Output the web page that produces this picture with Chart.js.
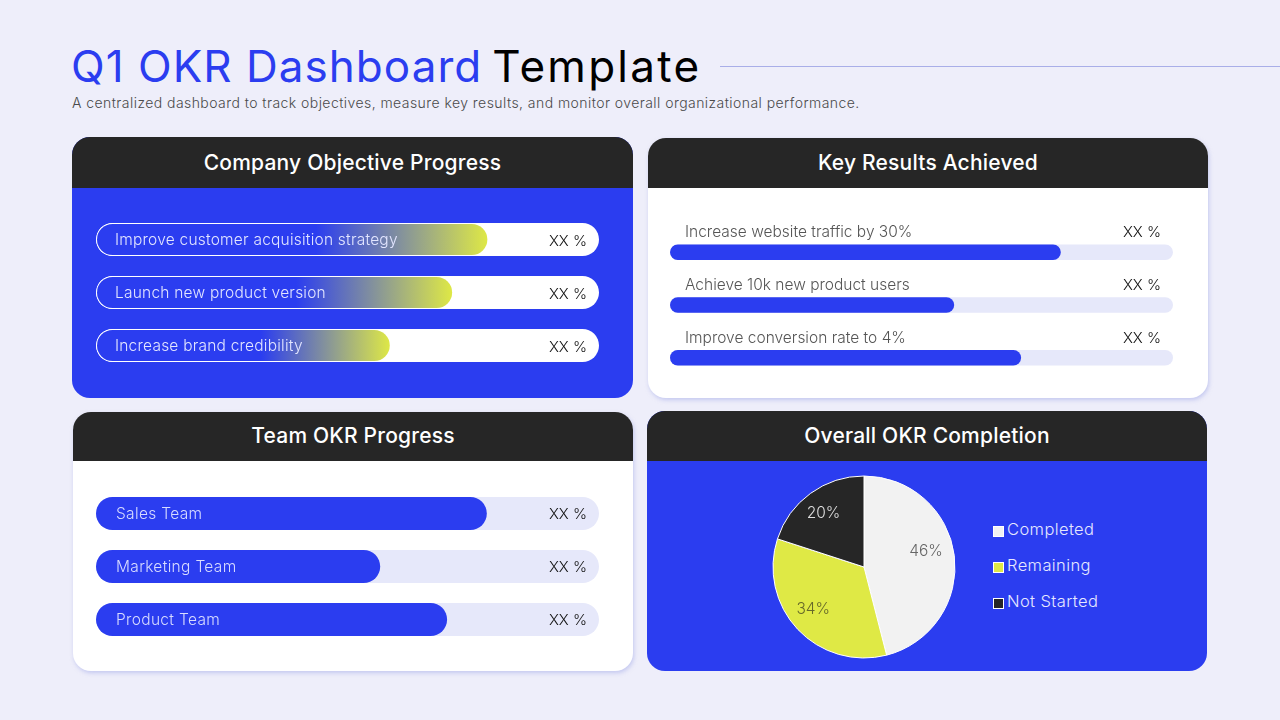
<!DOCTYPE html>
<html>
<head>
<meta charset="utf-8">
<title>Q1 OKR Dashboard Template</title>
<script src="https://cdn.jsdelivr.net/npm/chart.js@4"></script>
<style>
  html, body { margin: 0; padding: 0; }
  body { width: 1280px; height: 720px; overflow: hidden; position: relative; background: #eeeefa; font-family: Inter, "Noto Sans", sans-serif; }
  h1 { position: absolute; left: 71px; top: 38px; margin: 0; font-size: 44px; line-height: 56px; font-weight: 400; letter-spacing: 1.03px; color: #000; white-space: nowrap; }
  h1 .blue { color: #2b3df0; }
  h1 .last { letter-spacing: 2.28px; margin-left: -3.5px; }
  .rule { position: absolute; left: 720px; top: 66px; width: 560px; height: 1px; background: #a9aee8; }
  .sub { position: absolute; left: 72px; top: 94px; font-size: 14px; line-height: 18px; font-weight: 300; color: #4a4a4a; white-space: nowrap; letter-spacing: 0.44px; }
  .card { position: absolute; border-radius: 18px; overflow: hidden; }
  .card.blue { background: #2b3df0; }
  .card.white { background: #fff; box-shadow: 1px 2px 4px rgba(160, 168, 232, 0.55); }
  .head { background: #262626; color: #fff; text-align: center; font-size: 21px; font-weight: 450; letter-spacing: 0.2px; }
  .chart { position: absolute; }
  .legend { position: absolute; left: 993px; top: 511px; }
  .legend div { height: 36px; line-height: 36px; font-size: 16.5px; font-weight: 300; letter-spacing: 0.4px; color: #e6e8ff; white-space: nowrap; }
  .legend i { display: inline-block; width: 9px; height: 9px; border: 1px solid #fff; margin-right: 3px; vertical-align: -2px; }
</style>
</head>
<body>
<h1><span class="blue">Q1 OKR Dashboard</span> <span class="last">Template</span></h1>
<div class="rule"></div>
<div class="sub">A centralized dashboard to track objectives, measure key results, and monitor overall organizational performance.</div>

<div class="card blue" style="left:72px;top:137px;width:561px;height:261px"><div class="head" style="height:51px;line-height:51px">Company Objective Progress</div></div>
<div class="card white" style="left:648px;top:138px;width:560px;height:260px"><div class="head" style="height:50px;line-height:49px">Key Results Achieved</div></div>
<div class="card white" style="left:73px;top:412px;width:560px;height:259px"><div class="head" style="height:49px;line-height:47px">Team OKR Progress</div></div>
<div class="card blue" style="left:647px;top:411px;width:560px;height:260px"><div class="head" style="height:50px;line-height:49px">Overall OKR Completion</div></div>

<canvas class="chart" id="objectiveChart" width="503" height="159" style="left:96px;top:213px"></canvas>
<canvas class="chart" id="keyChart" width="503" height="168" style="left:670px;top:216px"></canvas>
<canvas class="chart" id="teamChart" width="503" height="159" style="left:96px;top:487px"></canvas>
<canvas class="chart" id="pieChart" width="200" height="200" style="left:764px;top:467px"></canvas>
<div class="legend" id="pieLegend"></div>

<script>
const objectiveLabels = ["Improve customer acquisition strategy", "Launch new product version", "Increase brand credibility"];
const objectiveValues = [78, 71, 58.6];
const keyLabels = ["Increase website traffic by 30%", "Achieve 10k new product users", "Improve conversion rate to 4%"];
const keyValues = [77.7, 56.5, 69.8];
const teamLabels = ["Sales Team", "Marketing Team", "Product Team"];
const teamValues = [77.7, 56.5, 69.8];
const valueTexts = ["XX %", "XX %", "XX %"];
const trackValues = [100, 100, 100];
const pieLabels = ["Completed", "Remaining", "Not Started"];
const pieValues = [46, 34, 20];

const BLUE = "#2b3df0";
const YELLOW = "#dfe945";
const DARK = "#262626";
const LIGHT = "#f2f2f2";
const TRACK = "#e6e8fa";
const LABEL_FONT = '300 15.5px Inter, "Noto Sans", sans-serif';
const VALUE_FONT = '300 15px Inter, "Noto Sans", sans-serif';

// text on the bars, placed from the chart's own scale
const barText = {
  id: "barText",
  afterDatasetsDraw(chart, args, opts) {
    const { ctx, chartArea } = chart;
    const y = chart.scales.y;
    ctx.save();
    ctx.textBaseline = "middle";
    chart.data.labels.forEach((label, i) => {
      const cy = y.getPixelForValue(i);
      ctx.font = LABEL_FONT;
      ctx.letterSpacing = opts.labelSpacing + "px";
      ctx.fillStyle = opts.labelColor;
      ctx.textAlign = "left";
      ctx.fillText(label, chartArea.left + opts.labelX, cy + opts.labelDy);
      ctx.font = VALUE_FONT;
      ctx.letterSpacing = "0px";
      ctx.fillStyle = "#111";
      ctx.textAlign = "right";
      ctx.fillText(valueTexts[i], chartArea.right - 12, cy + opts.valueDy);
    });
    ctx.restore();
  }
};

function barChart(id, labels, values, thickness, fill, trackColor, border, padTop, text) {
  return new Chart(document.getElementById(id), {
    type: "bar",
    data: {
      labels: labels,
      datasets: [
        { data: values, backgroundColor: fill, borderColor: border, borderWidth: border ? 1 : 0, order: 1 },
        { data: trackValues, backgroundColor: trackColor, borderWidth: 0, order: 2 }
      ]
    },
    options: {
      indexAxis: "y",
      responsive: false,
      animation: false,
      layout: { padding: { top: padTop } },
      datasets: { bar: { grouped: false, barThickness: thickness, borderRadius: thickness / 2, borderSkipped: false, inflateAmount: 0 } },
      scales: {
        x: { display: false, min: 0, max: 100 },
        y: { display: false }
      },
      plugins: { legend: { display: false }, tooltip: { enabled: false }, barText: text }
    },
    plugins: [barText]
  });
}

function fadeFill(context) {
  const x = context.chart.scales.x;
  if (!x || !context.chart.chartArea) return YELLOW;
  const end = x.getPixelForValue(context.raw);
  const g = context.chart.ctx.createLinearGradient(x.left, 0, end, 0);
  g.addColorStop(0, BLUE);
  g.addColorStop(0.56, BLUE);
  g.addColorStop(1, YELLOW);
  return g;
}

barChart("objectiveChart", objectiveLabels, objectiveValues, 33, fadeFill, "#ffffff", "#ffffff", 0,
  { labelColor: "#e3e6ff", labelX: 19, labelSpacing: 0.22, labelDy: 0.5, valueDy: 1.5 });
barChart("keyChart", keyLabels, keyValues, 15.5, BLUE, TRACK, null, 10,
  { labelColor: "#555555", labelX: 15, labelSpacing: 0, labelDy: -19.5, valueDy: -19.5 });
barChart("teamChart", teamLabels, teamValues, 33, BLUE, TRACK, null, 0,
  { labelColor: "#d8dcff", labelX: 20, labelSpacing: 0.33, labelDy: 0.5, valueDy: 0.5 });

const pieColors = [LIGHT, YELLOW, DARK];
const pieTextColors = ["#666666", "#66682a", "#dddddd"];
const pieTextNudge = [[-3, -7], [-3, -3], [-2, -1]];

const pieText = {
  id: "pieText",
  afterDatasetsDraw(chart) {
    const { ctx } = chart;
    ctx.save();
    ctx.font = LABEL_FONT;
    ctx.textAlign = "center";
    ctx.textBaseline = "middle";
    chart.getDatasetMeta(0).data.forEach((arc, i) => {
      const mid = (arc.startAngle + arc.endAngle) / 2;
      const r = arc.outerRadius * 0.72;
      ctx.fillStyle = pieTextColors[i];
      ctx.fillText(pieValues[i] + "%", arc.x + Math.cos(mid) * r + pieTextNudge[i][0], arc.y + Math.sin(mid) * r + pieTextNudge[i][1]);
    });
    ctx.restore();
  }
};

new Chart(document.getElementById("pieChart"), {
  type: "pie",
  data: {
    labels: pieLabels,
    datasets: [{ data: pieValues, backgroundColor: pieColors, borderColor: "#ffffff", borderWidth: 1 }]
  },
  options: {
    responsive: false,
    animation: false,
    layout: { padding: 8.5 },
    plugins: { legend: { display: false }, tooltip: { enabled: false } }
  },
  plugins: [pieText]
});

document.getElementById("pieLegend").innerHTML = pieLabels.map((label, i) =>
  '<div><i style="background:' + pieColors[i] + '"></i>' + label + "</div>").join("");
</script>
</body>
</html>
